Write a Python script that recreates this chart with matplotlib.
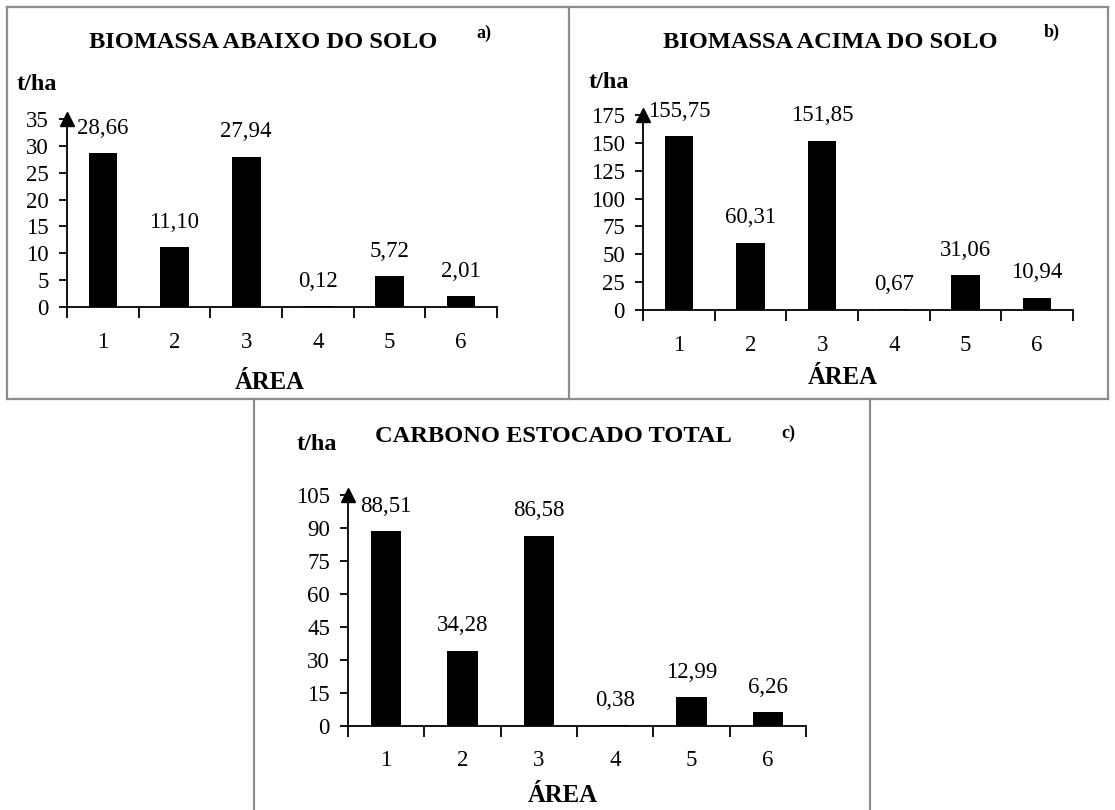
import matplotlib
matplotlib.use("Agg")
import matplotlib.pyplot as plt
from matplotlib.lines import Line2D
from matplotlib.ticker import MultipleLocator, FixedLocator, NullFormatter, FixedFormatter

plt.rcParams['font.family'] = ['Liberation Serif', 'DejaVu Serif']

areas = ["1", "2", "3", "4", "5", "6"]
abaixo = [28.66, 11.10, 27.94, 0.12, 5.72, 2.01]
acima = [155.75, 60.31, 151.85, 0.67, 31.06, 10.94]
carbono = [88.51, 34.28, 86.58, 0.38, 12.99, 6.26]

W, H = 1115, 810
fig = plt.figure(figsize=(W / 100, H / 100), dpi=100)


def fx(px):
    return px / W


def fy(py):
    return 1 - py / H


def panel(rect_px, values, ymax, ystep, title, title_xy, letter, letter_xy, tha_xy, area_xy, xpad):
    x0, y_top, x1, y_zero = rect_px
    ax = fig.add_axes([fx(x0), fy(y_zero), fx(x1 - x0), (y_zero - y_top) / H])
    xs = list(range(1, len(values) + 1))
    ax.bar(xs, values, width=0.4, color="black", zorder=2)
    ax.set_xlim(0.5, len(values) + 0.5)
    ax.set_ylim(0, ymax)
    for s in ("top", "right"):
        ax.spines[s].set_visible(False)
    ax.spines["left"].set_linewidth(1.3)
    ax.spines["bottom"].set_linewidth(1.3)
    ax.yaxis.set_major_locator(MultipleLocator(ystep))
    ax.tick_params(axis="y", direction="out", length=6, width=1.3, labelsize=16.5, pad=7)
    ax.xaxis.set_major_locator(FixedLocator([i + 0.5 for i in range(0, len(values) + 1)]))
    ax.xaxis.set_major_formatter(NullFormatter())
    ax.xaxis.set_minor_locator(FixedLocator(xs))
    ax.xaxis.set_minor_formatter(FixedFormatter(areas))
    ax.tick_params(axis="x", which="major", direction="out", length=8, width=1.3)
    ax.tick_params(axis="x", which="minor", length=0, labelsize=16.5, pad=xpad)
    ax.plot([0.5], [ymax], marker="^", color="black", markersize=10, clip_on=False, zorder=5)
    for x, v in zip(xs, values):
        ax.annotate(f"{v:.2f}".replace(".", ","), (x, v), xytext=(0, 18),
                    textcoords="offset points", ha="center", va="center", fontsize=16.5)
    fig.text(fx(title_xy[0]), fy(title_xy[1]), title, ha="center", va="center",
             fontsize=17.6, fontweight="bold")
    fig.text(fx(letter_xy[0]), fy(letter_xy[1]), letter, ha="center", va="center",
             fontsize=13, fontweight="bold")
    fig.text(fx(tha_xy[0]), fy(tha_xy[1]), "t/ha", ha="center", va="center",
             fontsize=17.5, fontweight="bold")
    fig.text(fx(area_xy[0]), fy(area_xy[1]), "ÁREA", ha="center", va="center",
             fontsize=17.8, fontweight="bold")
    return ax


panel((67, 119, 497, 307), abaixo, 35, 5, "BIOMASSA ABAIXO DO SOLO", (263, 43), "a)", (484, 33),
      (37, 85), (270, 383), 18)
panel((643, 115, 1073, 310), acima, 175, 25, "BIOMASSA ACIMA DO SOLO", (830, 43), "b)", (1052, 32),
      (609, 83), (843, 377), 18)
panel((348, 495, 806, 726), carbono, 105, 15, "CARBONO ESTOCADO TOTAL", (553, 437), "c)", (788, 433),
      (317, 445), (563, 795), 17)

# panel borders
gray = "#8c8c8c"
lw = 1.6
segs = [
    ((7, 7), (1108, 7)),
    ((7, 7), (7, 399)),
    ((569, 7), (569, 399)),
    ((1108, 7), (1108, 399)),
    ((7, 399), (1108, 399)),
    ((254, 399), (254, 810)),
    ((870, 399), (870, 810)),
]
for (xa, ya), (xb, yb) in segs:
    fig.add_artist(Line2D([fx(xa), fx(xb)], [fy(ya), fy(yb)], color=gray, lw=lw))

fig.savefig("out.png", dpi=100, facecolor="white")
